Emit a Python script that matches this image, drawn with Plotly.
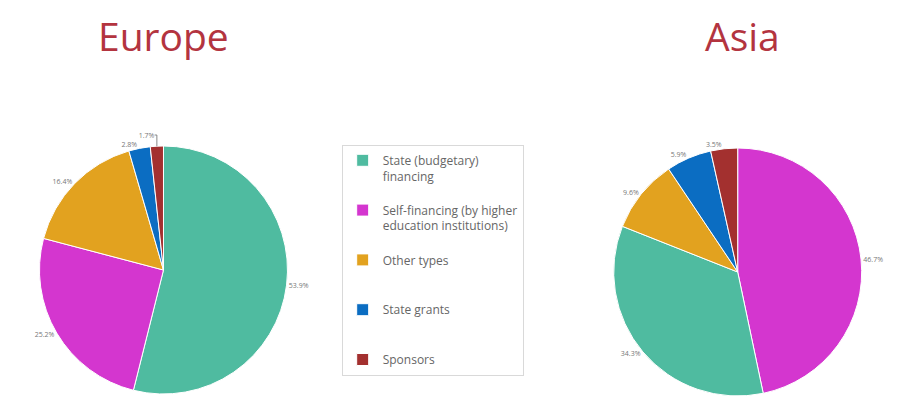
import plotly.graph_objects as go

categories = [
    "State (budgetary)<br>financing<br> ",
    "Self-financing (by higher<br>education institutions)<br> ",
    "Other types<br> <br> ",
    "State grants<br> <br> ",
    "Sponsors",
]
europe_values = [53.9, 25.2, 16.4, 2.8, 1.7]
asia_values = [34.3, 46.7, 9.6, 5.9, 3.5]
colors = ["#4FBBA0", "#D436CF", "#E2A21F", "#0B6DC2", "#A3302F"]
titles = ["Europe", "Asia"]

W, H = 902, 403
OFF = 8  # page body margin


def px_x(x):
    return (x - OFF) / W


def px_y(y):
    return 1 - (y - OFF) / H


R = 124


def dom(cx, cy):
    return dict(x=[px_x(cx - 1.1 * R), px_x(cx + 1.1 * R)],
                y=[px_y(cy + R), px_y(cy - R)])


fig = go.Figure()
common = dict(
    labels=categories,
    marker=dict(colors=colors, line=dict(color="white", width=1)),
    sort=True,
    direction="clockwise",
    rotation=0,
    textposition="outside",
    texttemplate="%{percent:.1%}",
    textfont=dict(size=7, color="#777777"),
    hoverinfo="label+percent",
)
fig.add_trace(go.Pie(values=europe_values, name="Europe", domain=dom(160, 270), **common))
fig.add_trace(go.Pie(values=asia_values, name="Asia", domain=dom(740, 272), **common))

for t, x in zip(titles, [160, 745]):
    fig.add_annotation(text=t, x=px_x(x), y=px_y(36), xref="paper", yref="paper",
                       showarrow=False, xanchor="center", yanchor="middle",
                       font=dict(size=39, color="#B3343F", family="Open Sans"))

fig.update_layout(
    width=W, height=H,
    margin=dict(l=0, r=0, t=0, b=0),
    paper_bgcolor="white", plot_bgcolor="white",
    showlegend=True,
    legend=dict(x=px_x(340), y=px_y(145), xanchor="left", yanchor="top",
                bordercolor="#D9D9D9", borderwidth=1, valign="top",
                font=dict(size=12, color="#666666", family="Open Sans"),
                itemwidth=30),
    font=dict(family="Open Sans"),
)
fig.write_html("out.html")
